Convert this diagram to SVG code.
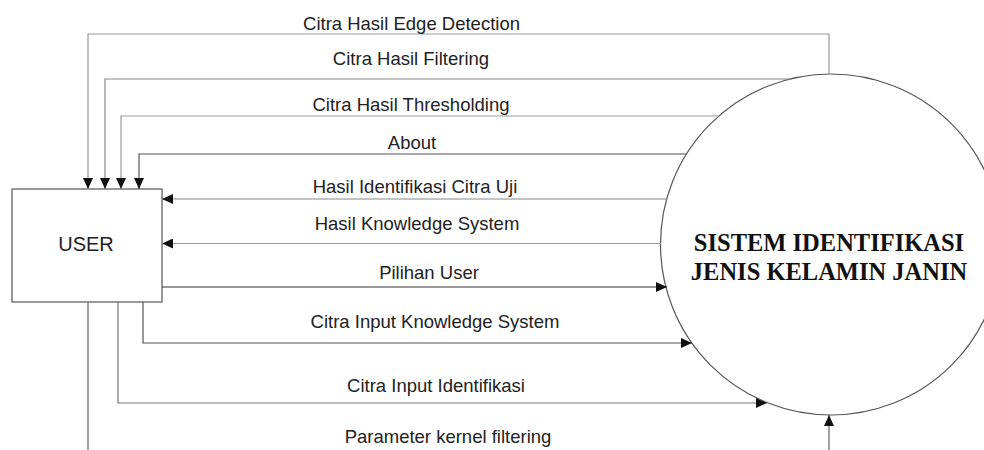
<svg xmlns="http://www.w3.org/2000/svg" width="984" height="450" viewBox="0 0 984 450">
  <style>
    .flow { fill: none; stroke: #666; stroke-width: 1.2; marker-end: url(#arrow); }
    .lbl { font-family: "Liberation Sans", Arial, sans-serif; font-size: 18.5px; fill: #222; text-anchor: middle; }
    .entity { fill: #fff; stroke: #555; stroke-width: 1.2; }
    .process { fill: #fff; stroke: #555; stroke-width: 1.2; }
    .ptext { font-family: "Liberation Serif", "Times New Roman", serif; font-weight: bold; font-size: 24.5px; fill: #111; text-anchor: middle; }
    .etext { font-family: "Liberation Sans", Arial, sans-serif; font-size: 20px; fill: #222; text-anchor: middle; }
  </style>
  <defs>
    <marker id="arrow" markerUnits="userSpaceOnUse" markerWidth="11" markerHeight="10" refX="11" refY="5" orient="auto">
      <path d="M0,0 L11,5 L0,10 z" fill="#111"/>
    </marker>
  </defs>

  <rect width="984" height="450" fill="#fff"/>

  <!-- process node -->
  <g id="sistem">
    <circle class="process" cx="831" cy="244.5" r="170.5"/>
    <text class="ptext" x="829" y="251">SISTEM IDENTIFIKASI</text>
    <text class="ptext" x="829" y="280">JENIS KELAMIN JANIN</text>
  </g>

  <!-- external entity -->
  <g id="user">
    <rect class="entity" x="12" y="189" width="150" height="113"/>
    <text class="etext" x="86" y="251">USER</text>
  </g>

  <!-- data flows -->
  <g id="connectors">
    <path class="flow" d="M829,74 V34 H88 V189" style="stroke:#999"/>
    <path class="flow" d="M790,79 H105 V189" style="stroke:#888"/>
    <path class="flow" d="M719,116 H121 V189" style="stroke:#999"/>
    <path class="flow" d="M687,154 H139 V189" style="stroke:#555"/>
    <path class="flow" d="M667,199 H162" style="stroke:#888"/>
    <path class="flow" d="M661,243.5 H162" style="stroke:#999"/>
    <path class="flow" d="M162,287 H667" style="stroke:#333"/>
    <path class="flow" d="M143,302 V343 H692" style="stroke:#555"/>
    <path class="flow" d="M118,302 V403 H767" style="stroke:#777"/>
    <path class="flow" d="M88,302 V470 H829 V415" style="stroke:#666"/>
  </g>

  <g id="labels">
    <text class="lbl" x="411.5" y="30">Citra Hasil Edge Detection</text>
    <text class="lbl" x="411" y="65">Citra Hasil Filtering</text>
    <text class="lbl" x="411" y="111">Citra Hasil Thresholding</text>
    <text class="lbl" x="412" y="149">About</text>
    <text class="lbl" x="415" y="193">Hasil Identifikasi Citra Uji</text>
    <text class="lbl" x="417" y="230">Hasil Knowledge System</text>
    <text class="lbl" x="429" y="279">Pilihan User</text>
    <text class="lbl" x="435" y="328">Citra Input Knowledge System</text>
    <text class="lbl" x="436" y="392">Citra Input Identifikasi</text>
    <text class="lbl" x="448" y="443">Parameter kernel filtering</text>
  </g>
</svg>
